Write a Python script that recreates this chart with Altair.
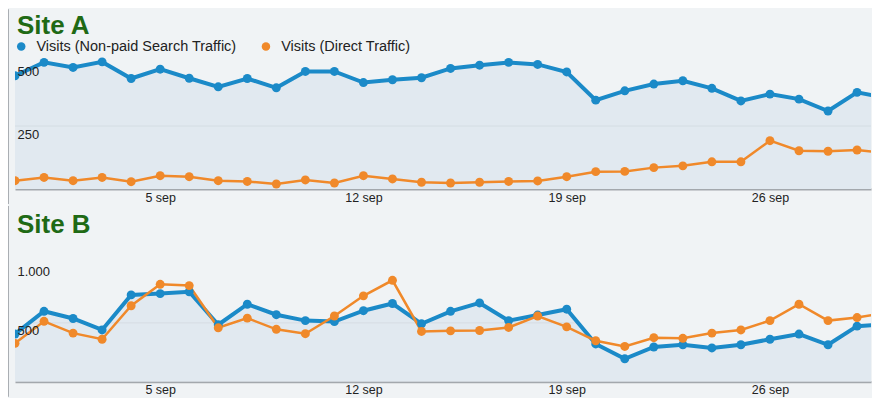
import altair as alt
import pandas as pd

# ---- data ----
days = list(range(31))  # 0 = 31 aug ... 30 = 30 sep
tick_values = [5, 12, 19, 26]
tick_labels = ["5 sep", "12 sep", "19 sep", "26 sep"]
series_names = ["Visits (Non-paid Search Traffic)", "Visits (Direct Traffic)"]
series_colors = ["#1b8ac8", "#f0892a"]

a_search = [450, 503, 483, 505, 439, 476, 440, 406, 439, 402, 467, 467, 423, 434, 442, 479,
            492, 503, 495, 465, 353, 390, 417, 430, 400, 350, 377, 357, 310, 384, 362]
a_direct = [33, 46, 33, 46, 29, 53, 49, 33, 30, 20, 36, 24, 53, 40, 27, 24,
            27, 30, 32, 49, 69, 70, 85, 92, 108, 108, 192, 152, 150, 155, 143]
b_search = [405, 598, 537, 440, 737, 748, 764, 484, 658, 569, 519, 511, 603, 664, 492, 598,
            669, 519, 566, 616, 321, 195, 295, 314, 287, 314, 361, 405, 314, 472, 490]
b_direct = [326, 513, 413, 361, 645, 827, 816, 458, 540, 445, 408, 558, 729, 861, 427, 432,
            435, 461, 558, 466, 348, 300, 374, 369, 413, 440, 519, 658, 519, 545, 585]

a_yticks = [250, 500]
a_ylabels = ["250", "500"]
b_yticks = [500, 1000]
b_ylabels = ["500", "1.000"]

GREEN = "#1f6a15"
BG = "#f0f3f5"
FONT = "Liberation Sans"
W = 857
X_MAX = 29.48


def arr(vals, quote):
    if quote:
        return "[" + ",".join("'" + v + "'" for v in vals) + "]"
    return "[" + ",".join(str(v) for v in vals) + "]"


def panel(name, search, direct, ymax, yticks, ylabels, height, legend_y, title_y, rule_top):
    n = len(days)
    df = pd.DataFrame({
        "i": days + days,
        "v": search + direct,
        "s": [series_names[0]] * n + [series_names[1]] * n,
        "o": [0] * n + [1] * n,
        "top": [ymax] * (2 * n),
    })
    x = alt.X("i:Q", scale=alt.Scale(domain=[0, X_MAX], nice=False, zero=False),
              axis=alt.Axis(values=tick_values,
                            labelExpr=arr(tick_labels, True) + "[indexof(" + arr(tick_values, False) + ", datum.value)]",
                            grid=False, ticks=False, tickSize=0, domainColor="#a3a8ad", domainWidth=2,
                            labelFontSize=12.5, labelColor="#222222", labelPadding=2, title=None,
                            labelFont=FONT))
    y = alt.Y("v:Q", scale=alt.Scale(domain=[0, ymax], nice=False),
              axis=alt.Axis(values=yticks,
                            labelExpr=arr(ylabels, True) + "[indexof(" + arr(yticks, False) + ", datum.value)]",
                            grid=False, domain=False, ticks=False, tickSize=0, zindex=1,
                            labelAlign="left", labelBaseline="top", labelPadding=-2, labelOffset=2,
                            labelFontSize=13, labelColor="#222222", title=None, labelFont=FONT))
    base = alt.Chart(df)
    s_only = base.transform_filter(alt.datum.o == 0)
    area = s_only.mark_area(color="#e1e9f0", clip=True).encode(x=x, y=y)
    grid = alt.Chart(pd.DataFrame({"v": yticks})).mark_rule(color="#d6dde3", strokeWidth=1).encode(y=y)
    # background-coloured band above the search line hides the grid outside the fill
    mask = s_only.mark_area(color=BG, clip=True).encode(x=x, y=y, y2="top:Q")
    line_s = s_only.mark_line(color=series_colors[0], strokeWidth=4, clip=True).encode(x=x, y=y)
    line_d = base.transform_filter(alt.datum.o == 1).mark_line(
        color=series_colors[1], strokeWidth=2.5, clip=True).encode(x=x, y=y)
    pts = base.mark_circle(size=80, opacity=1, clip=True).encode(
        x=x, y=y,
        color=alt.Color("s:N", scale=alt.Scale(domain=series_names, range=series_colors),
                        legend=alt.Legend(orient="none", legendX=-1, legendY=legend_y, direction="horizontal",
                                          title=None, symbolType="circle", symbolSize=72, symbolStrokeWidth=0,
                                          labelFontSize=14.5, labelColor="#222222", labelFont=FONT,
                                          labelOffset=8, columnPadding=22, padding=0, labelLimit=400)),
        order=alt.Order("o:Q"))
    title = alt.Chart(pd.DataFrame({"t": [name]})).mark_text(
        align="left", baseline="alphabetic", fontSize=26, fontWeight="bold", color=GREEN, font=FONT
    ).encode(x=alt.value(2), y=alt.value(title_y), text="t:N")
    border = alt.Chart(pd.DataFrame({"k": [0]})).mark_rule(color="#a9aeb3", strokeWidth=1).encode(
        x=alt.value(-6.5), y=alt.value(rule_top), y2=alt.value(height + 15))
    return alt.layer(area, grid, mask, line_s, line_d, pts, title, border).properties(width=W, height=height)


top = panel("Site A", a_search, a_direct, 531.7, a_yticks, a_ylabels, 134, -16, -21, -46)
bottom = panel("Site B", b_search, b_direct, 1076, b_yticks, b_ylabels, 127, -16, -22, -49)

chart = alt.vconcat(top, bottom, spacing=0).configure(
    background=BG, padding=0, font=FONT
).configure_view(stroke=None)

chart.save("out.html", embed_options={"renderer": "svg", "actions": False})
